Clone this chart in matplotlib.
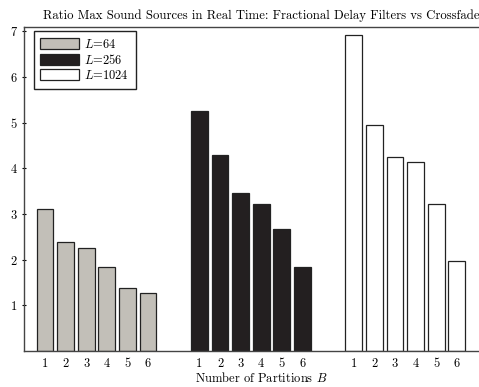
import matplotlib
matplotlib.use("Agg")
import matplotlib.pyplot as plt
import numpy as np

# Number of partitions B per block length L
PARTITIONS = [1, 2, 3, 4, 5, 6]
LABELS = ["$L$=64", "$L$=256", "$L$=1024"]
RATIO_L64 = [3.10, 2.39, 2.26, 1.84, 1.38, 1.28]
RATIO_L256 = [5.25, 4.29, 3.45, 3.21, 2.68, 1.84]
RATIO_L1024 = [6.92, 4.95, 4.24, 4.13, 3.21, 1.96]

plt.rcParams.update(
    {
        "font.family": "cmr10",
        "mathtext.fontset": "cm",
        "axes.formatter.use_mathtext": True,
        "font.size": 9,
    }
)

fig = plt.figure(figsize=(4.79, 3.87), dpi=100)
W, H = 479, 387
ax = fig.add_axes([24 / W, (H - 351) / H, (498 - 24) / W, (351 - 27) / H])

series = [RATIO_L64, RATIO_L256, RATIO_L1024]
fills = ["#c2bfb8", "#231f20", "#ffffff"]
group_starts = [1, 8.5, 16]
ticks, ticklabels = [], []
for start, vals, fill, label in zip(group_starts, series, fills, LABELS):
    xs = start + np.arange(len(PARTITIONS))
    ax.bar(xs, vals, width=0.82, color=fill, edgecolor="#222222", linewidth=0.9, label=label)
    ticks.extend(xs)
    ticklabels.extend(str(p) for p in PARTITIONS)

ax.set_xticks(ticks)
ax.set_xticklabels(ticklabels)
ax.tick_params(axis="x", length=0, pad=5, labelsize=9)
ax.tick_params(axis="y", length=3, direction="inout", pad=3, labelsize=9)
ax.set_yticks([1, 2, 3, 4, 5, 6, 7])
ax.set_xlim(-0.02, 23.0)
ax.set_ylim(0, 7.09)

for side in ["left", "bottom", "top", "right"]:
    ax.spines[side].set_color("#444444")
    ax.spines[side].set_linewidth(1.0)

ax.set_title("Ratio Max Sound Sources in Real Time: Fractional Delay Filters vs Crossfade",
             fontsize=9.2, pad=6)
ax.set_xlabel("Number of Partitions $B$", fontsize=9, labelpad=1)

leg = ax.legend(
    loc="upper left",
    bbox_to_anchor=(0.015, 0.995),
    fancybox=False,
    edgecolor="#222222",
    framealpha=1,
    handlelength=3.1,
    handleheight=0.95,
    handletextpad=0.4,
    labelspacing=0.15,
    borderpad=0.55,
    borderaxespad=0.2,
    fontsize=9,
)
leg.get_frame().set_linewidth(1.0)

fig.savefig("out.png", dpi=100)
